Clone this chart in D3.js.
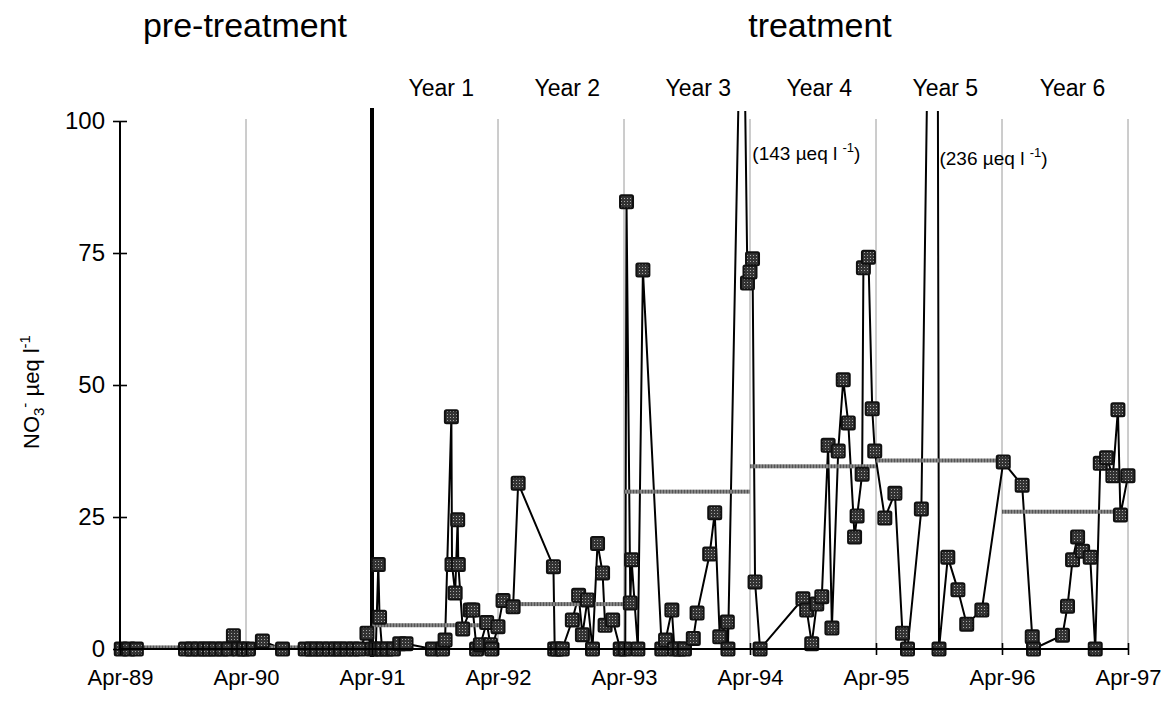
<!DOCTYPE html>
<html><head><meta charset="utf-8">
<script src="https://cdn.jsdelivr.net/npm/d3@7"></script>
<style>
html,body{margin:0;padding:0;background:#fff;}
text{font-family:"Liberation Sans",Arial,Helvetica,sans-serif;fill:#000;}
</style></head>
<body><svg id="c" width="1176" height="707"></svg>
<script>
// ---- data (time in decimal years, NO3- in µeq/l) ----
const sampleTime = [
 1989.26,1989.32,1989.38,
 1989.77,1989.82,1989.87,1989.92,1989.96,1990.01,1990.06,1990.11,1990.15,1990.19,1990.23,1990.27,
 1990.38,1990.54,
 1990.72,1990.77,1990.81,1990.86,1990.91,1990.96,1991.00,1991.05,1991.10,1991.15,1991.21,1991.25,
 1991.28,1991.30,1991.31,1991.33,1991.37,1991.42,1991.47,1991.52,
 1991.73,1991.81,1991.83,1991.88,1991.885,1991.91,1991.93,1991.935,1991.97,1992.03,1992.05,1992.08,1992.11,1992.16,1992.19,1992.20,1992.25,
 1992.29,1992.37,1992.41,1992.69,1992.70,1992.72,1992.76,1992.84,1992.89,1992.92,1992.96,1993.00,1993.04,1993.08,1993.10,1993.16,1993.22,1993.26,
 1993.27,1993.30,1993.31,1993.36,1993.40,1993.55,1993.58,1993.63,1993.65,1993.69,1993.73,1993.80,1993.83,1993.93,1993.97,1994.01,1994.07,1994.075,
 1994.19,1994.23,1994.25,1994.27,1994.29,1994.33,
 1994.67,1994.70,1994.74,1994.78,1994.82,1994.87,1994.90,1994.95,1994.99,1995.03,1995.08,1995.10,1995.14,1995.15,1995.19,1995.22,1995.24,
 1995.32,1995.40,1995.46,1995.50,1995.61,1995.73,1995.75,
 1995.82,1995.90,1995.97,1996.09,1996.26,1996.41,1996.49,1996.50,
 1996.73,1996.77,1996.81,1996.85,1996.89,1996.95,1996.99,1997.03,1997.08,1997.13,1997.17,1997.19,1997.25
];
const nitrate = [
 0,0,0,
 0,0,0,0,0,0,0,0,2.5,0,0,0,
 1.5,0,
 0,0,0,0,0,0,0,0,0,0,3,0,
 0,16,6,0,0,0,1,1,
 0,0,1.7,44,16,10.6,24.5,16,3.8,7.4,7.4,0,0.8,5,0.8,0,4.2,
 9.2,8,31.4,15.6,0,0,0,5.5,10.2,2.7,9.3,0,20,14.4,4.5,5.5,0,0,
 84.7,8.7,16.9,0,71.8,0,1.7,7.4,0,0,0,2,6.8,18,25.8,2.3,5.1,0,
 143,69.3,71.4,73.9,12.7,0,
 9.5,7.4,1,8.5,9.9,38.6,4,37.5,51,42.8,21.2,25.2,33.1,72.2,74.2,45.5,37.5,
 24.8,29.5,3,0,26.5,236,0,
 17.4,11.2,4.7,7.4,35.4,31,2.3,0,
 2.6,8.1,16.9,21.2,18.5,17.4,0,35.2,36.2,32.8,45.3,25.4,32.8
];
// period means
const meanStart = [1989.25,1991.25,1992.25,1993.25,1994.25,1995.25,1996.25];
const meanEnd   = [1991.25,1992.25,1993.25,1994.25,1995.25,1996.25,1997.25];
const meanValue = [0.3,4.5,8.5,29.8,34.6,35.7,26.0];
// axis ticks
const xTickTime  = [1989.25,1990.25,1991.25,1992.25,1993.25,1994.25,1995.25,1996.25,1997.25];
const xTickLabel = ["Apr-89","Apr-90","Apr-91","Apr-92","Apr-93","Apr-94","Apr-95","Apr-96","Apr-97"];
const yTicks = [0,25,50,75,100];
// labels
const yearLabel = ["Year 1","Year 2","Year 3","Year 4","Year 5","Year 6"];
const yearLabelTime = [1991.80,1992.80,1993.84,1994.80,1995.80,1996.81];
const offscaleText = ["143","236"];
const offscaleTime = [1994.245,1995.73];
const treatmentStart = 1991.25;

// ---- drawing ----
const svg = d3.select("#c");
const x = d3.scaleLinear().domain([1989.25,1997.25]).range([120,1128]);
const y = d3.scaleLinear().domain([0,100]).range([649,121]);

const defs = svg.append("defs");
const pat = defs.append("pattern").attr("id","dots").attr("width",3).attr("height",3).attr("patternUnits","userSpaceOnUse");
pat.append("rect").attr("width",3).attr("height",3).attr("fill","#333");
pat.append("rect").attr("width",1).attr("height",1).attr("fill","#a8a8a8");
const hp = defs.append("pattern").attr("id","hatch").attr("width",3).attr("height",4).attr("patternUnits","userSpaceOnUse");
hp.append("rect").attr("width",3).attr("height",4).attr("fill","#848484");
hp.append("rect").attr("width",1).attr("height",4).attr("fill","#555");
defs.append("clipPath").attr("id","clip").append("rect").attr("x",0).attr("y",111).attr("width",1176).attr("height",560);

// gridlines
svg.append("g").selectAll("line").data(xTickTime.filter(t=>t!==treatmentStart && t!==1989.25)).join("line")
  .attr("x1",d=>x(d)).attr("x2",d=>x(d)).attr("y1",119).attr("y2",y(0))
  .attr("stroke","#9a9a9a").attr("stroke-width",1);

// treatment start line
svg.append("line").attr("x1",x(treatmentStart)).attr("x2",x(treatmentStart))
  .attr("y1",108).attr("y2",657).attr("stroke","#000").attr("stroke-width",4);

// series line
const pts = sampleTime.map((t,i)=>[t,nitrate[i]]);
svg.append("path").datum(pts).attr("clip-path","url(#clip)")
  .attr("d",d3.line().x(d=>x(d[0])).y(d=>y(d[1])))
  .attr("fill","none").attr("stroke","#000").attr("stroke-width",2);

// mean lines
svg.append("g").selectAll("rect").data(meanValue).join("rect")
  .attr("x",(d,i)=>x(meanStart[i])).attr("width",(d,i)=>x(meanEnd[i])-x(meanStart[i]))
  .attr("y",d=>y(d)-2).attr("height",4).attr("fill","url(#hatch)");

// markers
svg.append("g").attr("clip-path","url(#clip)").selectAll("rect").data(pts).join("rect")
  .attr("x",d=>x(d[0])-6.5).attr("y",d=>y(d[1])-6.5).attr("width",13).attr("height",13).attr("rx",1.5)
  .attr("fill","url(#dots)").attr("stroke","#111").attr("stroke-width",2);

// y axis
const ya = svg.append("g").attr("transform",`translate(${x(1989.25)},0)`)
  .call(d3.axisLeft(y).tickValues(yTicks).tickSize(7).tickPadding(8));
ya.select(".domain").attr("stroke","#000").attr("stroke-width",2).attr("d",`M0,${y(100)}V${y(0)}`);
ya.selectAll(".tick line").attr("x1",-7).attr("x2",7).attr("stroke","#000").attr("stroke-width",1.6);
ya.selectAll(".tick text").attr("font-size",24).attr("font-family","Liberation Sans, Arial, sans-serif").attr("x",-15);

// x axis
const xa = svg.append("g").attr("transform",`translate(0,${y(0)})`)
  .call(d3.axisBottom(x).tickValues(xTickTime).tickFormat((d,i)=>xTickLabel[i]).tickSize(6).tickPadding(14));
xa.select(".domain").attr("stroke","#000").attr("stroke-width",2).attr("d",`M${x(1989.25)},0H${x(1997.25)}`);
xa.selectAll(".tick line").attr("y1",-6).attr("y2",6).attr("stroke","#000").attr("stroke-width",1.6);
xa.selectAll(".tick text").attr("font-size",22).attr("font-family","Liberation Sans, Arial, sans-serif");

// y label
const yl = svg.append("text").attr("transform","translate(39,392) rotate(-90)").attr("text-anchor","middle").attr("font-size",22);
yl.append("tspan").text("NO");
yl.append("tspan").text("3").attr("font-size",15).attr("dy",5);
yl.append("tspan").text("-").attr("font-size",15).attr("dy",-14);
yl.append("tspan").text(" µeq l").attr("dy",9);
yl.append("tspan").text("-1").attr("font-size",15).attr("dy",-9);

// top labels
svg.append("text").attr("x",245).attr("y",37).attr("text-anchor","middle").attr("font-size",34).text("pre-treatment");
svg.append("text").attr("x",820).attr("y",37).attr("text-anchor","middle").attr("font-size",34).text("treatment");
svg.append("g").selectAll("text").data(yearLabel).join("text")
  .attr("x",(d,i)=>x(yearLabelTime[i])).attr("y",96).attr("text-anchor","middle").attr("font-size",23).text(d=>d);

// off-scale annotations
offscaleText.forEach((s,i)=>{
  const t = svg.append("text").attr("x",x(offscaleTime[i])+3).attr("y",i===0?160:165).attr("font-size",19);
  t.append("tspan").text("("+s+" µeq l ");
  t.append("tspan").text("-1").attr("font-size",13).attr("dy",-8);
  t.append("tspan").text(")").attr("dy",8);
});
</script></body></html>
